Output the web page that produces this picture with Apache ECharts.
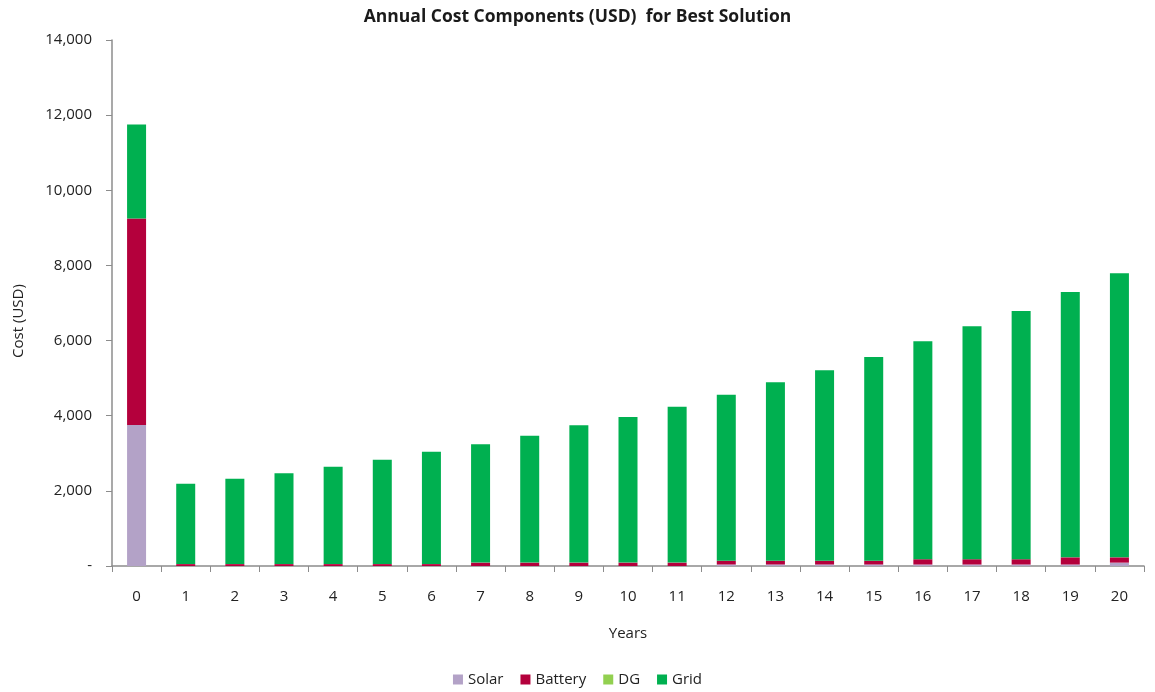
<!DOCTYPE html>
<html>
<head>
<meta charset="utf-8">
<script src="https://cdn.jsdelivr.net/npm/echarts@6/dist/echarts.min.js"></script>
<style>
html,body{margin:0;padding:0;background:#fff;}
#chart{width:1155px;height:692px;}
</style>
</head>
<body>
<div id="chart"></div>
<script>
const years = ['0','1','2','3','4','5','6','7','8','9','10','11','12','13','14','15','16','17','18','19','20'];
const totals = [11750,2190,2323,2467,2642,2829,3041,3238,3467,3744,3965,4240,4559,4888,5207,5561,5979,6378,6785,7291,7789];
const solar = [3750,0,0,0,0,0,0,0,0,0,0,0,40,40,40,40,40,40,40,40,90];
const battery = [5500,50,50,50,50,50,50,90,90,90,90,90,100,100,100,100,140,140,140,190,140];
const dg = [0,0,0,0,0,0,0,0,0,0,0,0,0,0,0,0,0,0,0,0,0];
const grid = totals.map((t,i)=>t - solar[i] - battery[i] - dg[i]);

const FONT = '"Open Sans", "Noto Sans", sans-serif';
const chart = echarts.init(document.getElementById('chart'));
const mk = (name, data, color) => ({
  name, type:'bar', stack:'cost', data, barWidth:19,
  itemStyle:{color}, emphasis:{disabled:true}
});
chart.setOption({
  animation:false,
  title:{
    text:'Annual Cost Components (USD)  for Best Solution',
    left:'center', top:3,
    textStyle:{fontFamily:FONT, fontSize:17.5, fontWeight:'bold', color:'#1a1a1a'}
  },
  legend:{
    bottom:0, left:'center', itemWidth:10, itemHeight:10, itemGap:17,
    icon:'rect',
    textStyle:{fontFamily:FONT, fontSize:15, color:'#222'},
    data:['Solar','Battery','DG','Grid']
  },
  grid:{left:112, right:11, top:40, bottom:126},
  xAxis:{
    type:'category', data:years,
    name:'Years', nameLocation:'middle', nameGap:60,
    nameTextStyle:{fontFamily:FONT, fontSize:15, color:'#222'},
    axisLine:{lineStyle:{color:'#8c8c8c', width:1.5}},
    axisTick:{show:true, length:6, lineStyle:{color:'#8c8c8c'}},
    axisLabel:{fontFamily:FONT, fontSize:15, color:'#222', margin:23}
  },
  yAxis:{
    type:'value', min:0, max:14000, interval:2000,
    name:'Cost (USD)', nameLocation:'middle', nameGap:86, nameRotate:90,
    nameTextStyle:{fontFamily:FONT, fontSize:15, color:'#222', padding:[0,36,0,0]},
    splitLine:{show:false},
    axisLine:{show:true, lineStyle:{color:'#8c8c8c', width:1.5}},
    axisTick:{show:true, length:6, lineStyle:{color:'#8c8c8c'}},
    axisLabel:{fontFamily:FONT, fontSize:15, color:'#222', margin:20,
      formatter:v => v===0 ? '-' : v.toLocaleString('en-US')}
  },
  series:[
    mk('Solar', solar, '#B3A2C7'),
    mk('Battery', battery, '#B4003C'),
    mk('DG', dg, '#92D050'),
    mk('Grid', grid, '#00B050')
  ]
});
</script>
</body>
</html>
